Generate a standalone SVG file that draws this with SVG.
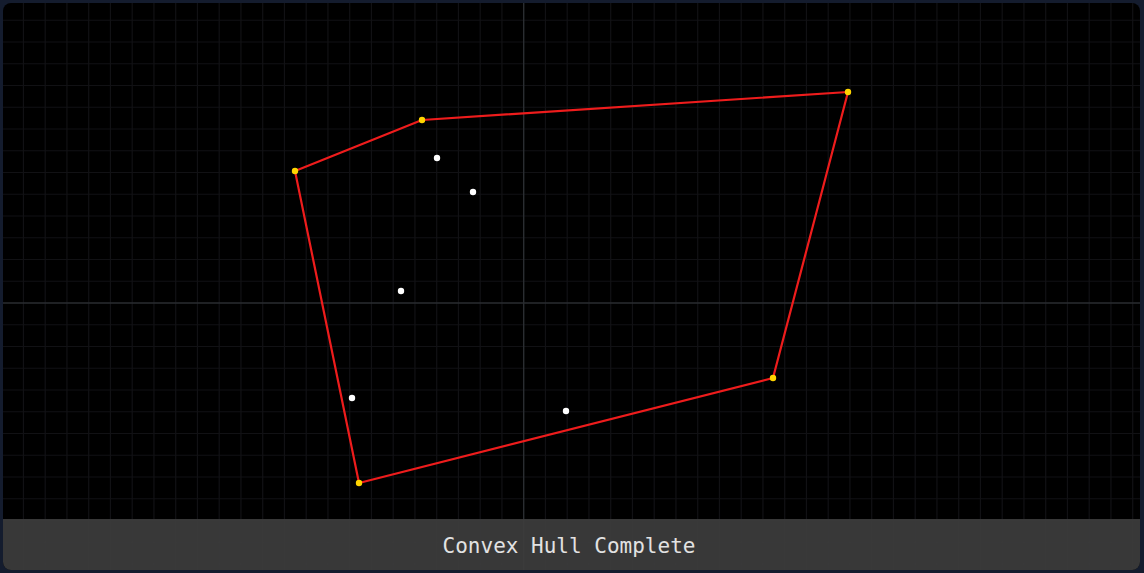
<svg xmlns="http://www.w3.org/2000/svg" width="1144" height="573" viewBox="0 0 1144 573">
<defs>
<clipPath id="clip"><rect x="3" y="3" width="1137" height="567" rx="8"/></clipPath>
</defs>
<style>
.grid{fill:none;stroke:#111114;stroke-width:1.2}
.hull{fill:none;stroke:#ee1c1c;stroke-width:2.2;stroke-linejoin:round}
.v{fill:#ffd400}
.p{fill:#ffffff}
.axis{stroke:#2a2d31;stroke-width:1.4}
.label{font-family:"DejaVu Sans Mono",monospace;font-size:21px;fill:#e2e2e2}
</style>
<rect width="1144" height="573" fill="#141c2e"/>
<g clip-path="url(#clip)">
<rect x="3" y="3" width="1137" height="567" fill="#000000"/>
<path class="grid" d="M23.45 0V573M45.2 0V573M66.95 0V573M88.7 0V573M110.45 0V573M132.2 0V573M153.95 0V573M175.7 0V573M197.45 0V573M219.2 0V573M240.95 0V573M262.7 0V573M284.45 0V573M306.2 0V573M327.95 0V573M349.7 0V573M371.45 0V573M393.2 0V573M414.95 0V573M436.7 0V573M458.45 0V573M480.2 0V573M501.95 0V573M545.45 0V573M567.2 0V573M588.95 0V573M610.7 0V573M632.45 0V573M654.2 0V573M675.95 0V573M697.7 0V573M719.45 0V573M741.2 0V573M762.95 0V573M784.7 0V573M806.45 0V573M828.2 0V573M849.95 0V573M871.7 0V573M893.45 0V573M915.2 0V573M936.95 0V573M958.7 0V573M980.45 0V573M1002.2 0V573M1023.95 0V573M1045.7 0V573M1067.45 0V573M1089.2 0V573M1110.95 0V573M1132.7 0V573M0 20.25H1144M0 42H1144M0 63.75H1144M0 85.5H1144M0 107.25H1144M0 129H1144M0 150.75H1144M0 172.5H1144M0 194.25H1144M0 216H1144M0 237.75H1144M0 259.5H1144M0 281.25H1144M0 324.75H1144M0 346.5H1144M0 368.25H1144M0 390H1144M0 411.75H1144M0 433.5H1144M0 455.25H1144M0 477H1144M0 498.75H1144M0 520.5H1144M0 542.25H1144M0 564H1144"/>
<line class="axis" x1="523.7" y1="3" x2="523.7" y2="570"/>
<line class="axis" x1="3" y1="303" x2="1140" y2="303"/>
<g id="connectors">
<polygon class="hull" points="422,120 848,92 773,378 359,483 295,171"/>
</g>
<g id="hull-vertices">
<circle id="v1" class="v" cx="422" cy="120" r="3.2"/>
<circle id="v2" class="v" cx="848" cy="92" r="3.2"/>
<circle id="v3" class="v" cx="773" cy="378" r="3.2"/>
<circle id="v4" class="v" cx="359" cy="483" r="3.2"/>
<circle id="v5" class="v" cx="295" cy="171" r="3.2"/>
</g>
<g id="interior-points">
<circle id="p1" class="p" cx="437" cy="158" r="3.2"/>
<circle id="p2" class="p" cx="473" cy="192" r="3.2"/>
<circle id="p3" class="p" cx="401" cy="291" r="3.2"/>
<circle id="p4" class="p" cx="352" cy="398" r="3.2"/>
<circle id="p5" class="p" cx="566" cy="411" r="3.2"/>
</g>
<g id="status-bar">
<rect x="3" y="519" width="1137" height="51" fill="#3c3c3c" fill-opacity="0.93"/>
<text class="label" x="569" y="553" text-anchor="middle">Convex Hull Complete</text>
</g>
</g>
</svg>
